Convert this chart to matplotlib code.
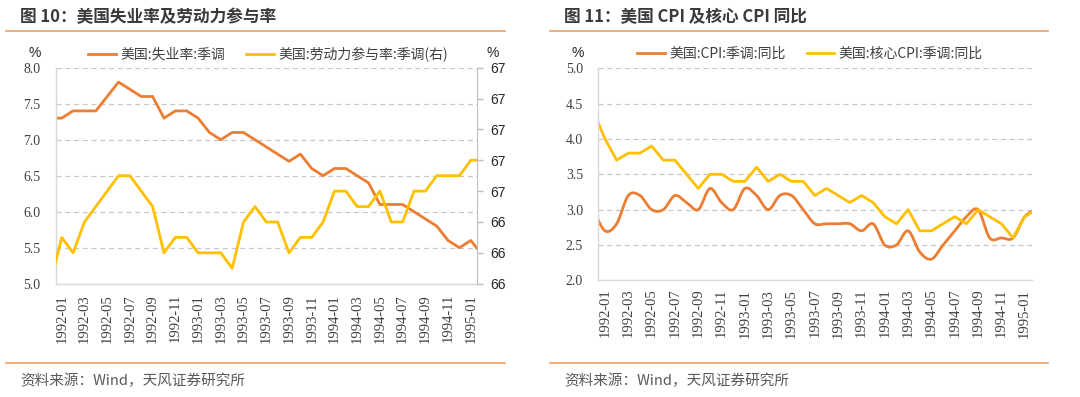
"""US unemployment / participation and CPI / core CPI, 1992-1995 (two panels)."""

import matplotlib

matplotlib.use("Agg")
import matplotlib.pyplot as plt
import numpy as np
from matplotlib.lines import Line2D
from matplotlib.patches import PathPatch
from matplotlib.path import Path

plt.rcParams["font.family"] = ["Noto Sans CJK SC", "DejaVu Sans"]

# month index: 0 = 1992-01 ... 36 = 1995-01; the plot shows half a month either side,
# so the series carry one month before (1991-12) and one after (1995-02)
MONTHS = np.arange(-1, 38)
TICK_MONTHS = np.arange(0, 37, 2)
TICK_LABELS = [
    "1992-01", "1992-03", "1992-05", "1992-07", "1992-09", "1992-11",
    "1993-01", "1993-03", "1993-05", "1993-07", "1993-09", "1993-11",
    "1994-01", "1994-03", "1994-05", "1994-07", "1994-09", "1994-11",
    "1995-01",
]

UNEMPLOYMENT = [
    7.3, 7.3, 7.4, 7.4, 7.4, 7.6, 7.8, 7.7, 7.6, 7.6, 7.3, 7.4, 7.4,
    7.3, 7.1, 7.0, 7.1, 7.1, 7.0, 6.9, 6.8, 6.7, 6.8, 6.6, 6.5,
    6.6, 6.6, 6.5, 6.4, 6.1, 6.1, 6.1, 6.0, 5.9, 5.8, 5.6, 5.5,
    5.6, 5.4,
]
PARTICIPATION = [
    66.0, 66.3, 66.2, 66.4, 66.5, 66.6, 66.7, 66.7, 66.6, 66.5, 66.2, 66.3, 66.3,
    66.2, 66.2, 66.2, 66.1, 66.4, 66.5, 66.4, 66.4, 66.2, 66.3, 66.3, 66.4,
    66.6, 66.6, 66.5, 66.5, 66.6, 66.4, 66.4, 66.6, 66.6, 66.7, 66.7, 66.7,
    66.8, 66.8,
]
CPI = [
    3.0, 2.7, 2.8, 3.2, 3.2, 3.0, 3.0, 3.2, 3.1, 3.0, 3.3, 3.1, 3.0,
    3.3, 3.2, 3.0, 3.2, 3.2, 3.0, 2.8, 2.8, 2.8, 2.8, 2.7, 2.8,
    2.5, 2.5, 2.7, 2.4, 2.3, 2.5, 2.7, 2.9, 3.0, 2.6, 2.6, 2.6,
    2.9, 3.0,
]
CORE_CPI = [
    4.4, 4.0, 3.7, 3.8, 3.8, 3.9, 3.7, 3.7, 3.5, 3.3, 3.5, 3.5, 3.4,
    3.4, 3.6, 3.4, 3.5, 3.4, 3.4, 3.2, 3.3, 3.2, 3.1, 3.2, 3.1,
    2.9, 2.8, 3.0, 2.7, 2.7, 2.8, 2.9, 2.8, 3.0, 2.9, 2.8, 2.6,
    2.9, 3.0,
]

ORANGE = "#ED7D31"
YELLOW = "#FFC000"
RULE = "#F0A060"
GRID = "#C8C8C8"
SERIF = ["Liberation Serif", "DejaVu Serif"]
SANS = ["Liberation Sans", "DejaVu Sans"]
CJK = ["Noto Sans CJK SC", "DejaVu Sans"]

W, H = 1080, 397


def fx(px):
    return px / W


def fy(py):
    return 1 - py / H


def smooth_path(x, y):
    """Catmull-Rom style Bezier path through the points (Excel-like smoothed line)."""
    x = np.asarray(x, float)
    y = np.asarray(y, float)
    xp = np.concatenate([[x[0]], x, [x[-1]]])
    yp = np.concatenate([[y[0]], y, [y[-1]]])
    verts = [(x[0], y[0])]
    codes = [Path.MOVETO]
    for i in range(len(x) - 1):
        c1 = (xp[i + 1] + (xp[i + 2] - xp[i]) / 6, yp[i + 1] + (yp[i + 2] - yp[i]) / 6)
        c2 = (xp[i + 2] - (xp[i + 3] - xp[i + 1]) / 6, yp[i + 2] - (yp[i + 3] - yp[i + 1]) / 6)
        verts += [c1, c2, (x[i + 1], y[i + 1])]
        codes += [Path.CURVE4] * 3
    return Path(verts, codes)


def style_axes(ax, ylim, yticks, pad_bottom):
    ax.set_xlim(-0.53, 36.5)
    ax.set_ylim(*ylim)
    ax.set_yticks(yticks)
    ax.set_yticklabels([f"{v:.1f}" for v in yticks], family=SERIF, fontsize=10, color="#404040")
    ax.set_xticks(TICK_MONTHS)
    ax.set_xticklabels(TICK_LABELS, rotation=90, family=SERIF, fontsize=10.5, color="#404040")
    ax.tick_params(axis="both", length=0)
    ax.tick_params(axis="y", pad=11)
    ax.tick_params(axis="x", pad=pad_bottom)
    ax.grid(axis="y", color=GRID, linestyle=(0, (4, 3)), linewidth=0.9)
    ax.set_axisbelow(True)
    for side in ("top", "right"):
        ax.spines[side].set_visible(False)
    for side in ("left", "bottom"):
        ax.spines[side].set_color("#D9D9D9")
        ax.spines[side].set_linewidth(1.0)


def main():
    fig = plt.figure(figsize=(W / 100, H / 100), dpi=100)

    # ---- left panel: unemployment and participation ----
    ax1 = fig.add_axes([fx(55.7), fy(283.7), fx(476.5 - 55.7), (283.7 - 67.7) / H])
    style_axes(ax1, (5.0, 8.0), np.arange(5.0, 8.01, 0.5), 7.5)
    ax1.plot(MONTHS, UNEMPLOYMENT, color=ORANGE, lw=2.0, solid_joinstyle="round")

    ax1r = ax1.twinx()
    ax1r.set_ylim(66.0, 67.4)
    rticks = np.arange(66.0, 67.41, 0.2)
    ax1r.set_yticks(rticks)
    ax1r.set_yticklabels([f"{v:.0f}" for v in rticks], family=SANS, fontsize=10, color="#262626")
    ax1r.tick_params(axis="y", length=4, width=1, color="#BFBFBF", pad=6)
    ax1r.plot(MONTHS, PARTICIPATION, color=YELLOW, lw=2.0, solid_joinstyle="round")
    for side in ("top", "left", "bottom"):
        ax1r.spines[side].set_visible(False)
    ax1r.spines["right"].set_color("#BFBFBF")

    handles = [Line2D([], [], color=ORANGE, lw=2.0), Line2D([], [], color=YELLOW, lw=2.0)]
    fig.legend(
        handles, ["美国:失业率:季调", "美国:劳动力参与率:季调(右)"],
        loc="center", bbox_to_anchor=(fx(268), fy(54)), ncol=2, frameon=False,
        prop={"family": CJK, "size": 10}, handlelength=2.0, handletextpad=0.3,
        columnspacing=1.5, labelcolor="#404040",
    )
    fig.text(fx(35), fy(53), "%", family=SANS, fontsize=10, ha="center", va="center", color="#262626")
    fig.text(fx(493), fy(53), "%", family=SANS, fontsize=10, ha="center", va="center", color="#262626")

    # ---- right panel: CPI and core CPI ----
    ax2 = fig.add_axes([fx(598.3), fy(280.3), fx(1031.7 - 598.3), (280.3 - 68.3) / H])
    style_axes(ax2, (2.0, 5.0), np.arange(2.0, 5.01, 0.5), 6)
    ax2.set_xlim(-0.575, 36.6)
    ax2.add_patch(PathPatch(smooth_path(MONTHS, CPI), facecolor="none", edgecolor=ORANGE,
                            lw=2.0, joinstyle="round", capstyle="round"))
    ax2.plot(MONTHS, CORE_CPI, color=YELLOW, lw=2.0, solid_joinstyle="round")

    fig.legend(
        handles, ["美国:CPI:季调:同比", "美国:核心CPI:季调:同比"],
        loc="center", bbox_to_anchor=(fx(810), fy(54)), ncol=2, frameon=False,
        prop={"family": CJK, "size": 10}, handlelength=2.0, handletextpad=0.3,
        columnspacing=1.5, labelcolor="#404040",
    )
    fig.text(fx(578), fy(53), "%", family=SANS, fontsize=10, ha="center", va="center", color="#262626")

    # ---- titles, rules and source notes ----
    for x0, x1, title in ((6, 505, "图 10：美国失业率及劳动力参与率"),
                          (550, 1048, "图 11：美国 CPI 及核心 CPI 同比")):
        fig.text(fx(x0 + 14), fy(17), title, family=CJK, fontsize=12, weight="bold",
                 color="#3A3A3A", ha="left", va="center")
        fig.add_artist(Line2D([fx(x0), fx(x1)], [fy(31), fy(31)], color=RULE, lw=1.2))
        fig.add_artist(Line2D([fx(x0), fx(x1)], [fy(363), fy(363)], color=RULE, lw=1.2))
        fig.text(fx(x0 + 14), fy(381), "资料来源：Wind，天风证券研究所", family=CJK,
                 fontsize=10.5, color="#595959", ha="left", va="center")

    fig.savefig("out.png", dpi=100)
    plt.close(fig)


if __name__ == "__main__":
    main()
